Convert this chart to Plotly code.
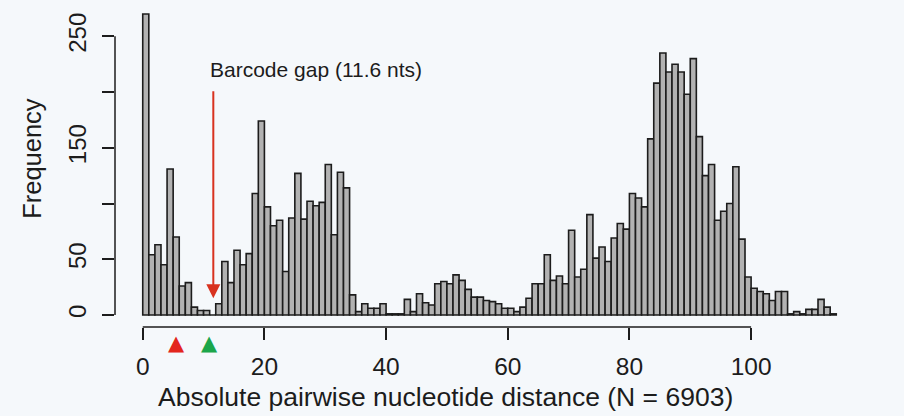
import plotly.graph_objects as go

# ---- data (bin width = 1 nt) ----
bins = list(range(114))
counts = [
    270, 54, 63, 45, 131, 70, 26, 29, 7, 4,
    4, 0, 10, 48, 29, 58, 45, 55, 109, 174,
    97, 80, 85, 39, 87, 127, 86, 102, 98, 101,
    135, 72, 128, 114, 18, 3, 10, 6, 6, 10,
    1, 1, 1, 14, 3, 19, 11, 9, 28, 30,
    28, 36, 31, 23, 16, 16, 13, 12, 10, 6,
    6, 3, 7, 15, 28, 28, 54, 31, 35, 28,
    76, 34, 41, 90, 51, 61, 48, 69, 82, 77,
    109, 105, 97, 158, 208, 235, 218, 225, 218, 198,
    230, 160, 125, 135, 85, 93, 100, 133, 68, 34,
    24, 21, 19, 13, 21, 21, 1, 3, 1, 5,
    5, 14, 7, 1,
]
x_tick_vals = [0, 20, 40, 60, 80, 100]
x_tick_text = ["0", "20", "40", "60", "80", "100"]
y_tick_vals = [0, 50, 100, 150, 200, 250]
y_tick_text = ["0", "50", "", "150", "", "250"]
gap_value = 11.6
gap_label = "Barcode gap (11.6 nts)"
marker_x = [5.6, 11.0]
marker_colors = ["#e3261c", "#1ba64a"]
x_title = "Absolute pairwise nucleotide distance (N = 6903)"
y_title = "Frequency"

FONT = "Liberation Sans, Arial, sans-serif"
INK = "#1c1c1c"
BG = "#f5f8fb"

nbins = len(bins)
ymax = max(counts)
xpad = 0.04 * nbins
ypad = 0.04 * ymax

fig = go.Figure()
fig.add_bar(
    x=[b + 0.5 for b in bins],
    y=counts,
    width=1,
    marker=dict(color="#b2b2b2", line=dict(color=INK, width=1.6)),
    hoverinfo="x+y",
)

# axis lines like R: only spanning the labelled tick range
shapes = [
    dict(type="line", xref="x", yref="paper", x0=x_tick_vals[0], x1=x_tick_vals[-1], y0=0, y1=0,
         line=dict(color=INK, width=1.5)),
    dict(type="line", xref="paper", yref="y", x0=0, x1=0, y0=y_tick_vals[0], y1=y_tick_vals[-1],
         line=dict(color=INK, width=1.5)),
]

annotations = [
    dict(x=gap_value, y=15, ax=gap_value, ay=202, xref="x", yref="y", axref="x", ayref="y",
         showarrow=True, arrowhead=2, arrowsize=1.4, arrowwidth=2, arrowcolor="#d8321f", text=""),
    dict(x=10.7, y=220, xref="x", yref="y", text=gap_label, showarrow=False,
         xanchor="left", yanchor="middle", font=dict(size=21, color=INK, family=FONT)),
    dict(x=0.441, y=-0.215, xref="paper", yref="paper", text=x_title, showarrow=False,
         xanchor="center", yanchor="middle", font=dict(size=26.5, color=INK, family=FONT)),
    dict(x=-0.111, y=0.52, xref="paper", yref="paper", text=y_title, showarrow=False,
         textangle=-90, xanchor="center", yanchor="middle", font=dict(size=25.5, color=INK, family=FONT)),
]
# coloured triangles under the x axis
for mx, mc in zip(marker_x, marker_colors):
    annotations.append(dict(x=mx, y=-0.05, xref="x", yref="paper", text="▲", showarrow=False,
                            xanchor="center", yanchor="middle",
                            font=dict(size=21, color=mc, family="DejaVu Sans")))

fig.update_layout(
    width=904, height=416,
    margin=dict(l=115, r=40, t=2, b=89, pad=0),
    paper_bgcolor=BG, plot_bgcolor=BG,
    showlegend=False,
    font=dict(family=FONT, color=INK),
    shapes=shapes,
    annotations=annotations,
    xaxis=dict(range=[-xpad, nbins + xpad], tickvals=x_tick_vals, ticktext=x_tick_text,
               ticks="outside", ticklen=12, tickwidth=1.5, tickcolor=INK,
               showgrid=False, zeroline=False, showline=False,
               tickfont=dict(size=24.5, color=INK, family=FONT), ticklabelstandoff=6),
    yaxis=dict(range=[-ypad, ymax + ypad], tickvals=y_tick_vals, ticktext=y_tick_text,
               ticks="outside", ticklen=12, tickwidth=1.5, tickcolor=INK, tickangle=-90,
               showgrid=False, zeroline=False, showline=False,
               tickfont=dict(size=24, color=INK, family=FONT), ticklabelstandoff=6),
)

fig.write_html(
    "out.html",
    config={"displayModeBar": False},
    post_script="document.body.style.margin='0px';document.body.style.overflow='hidden';"
                "document.body.style.background='" + BG + "';",
)
